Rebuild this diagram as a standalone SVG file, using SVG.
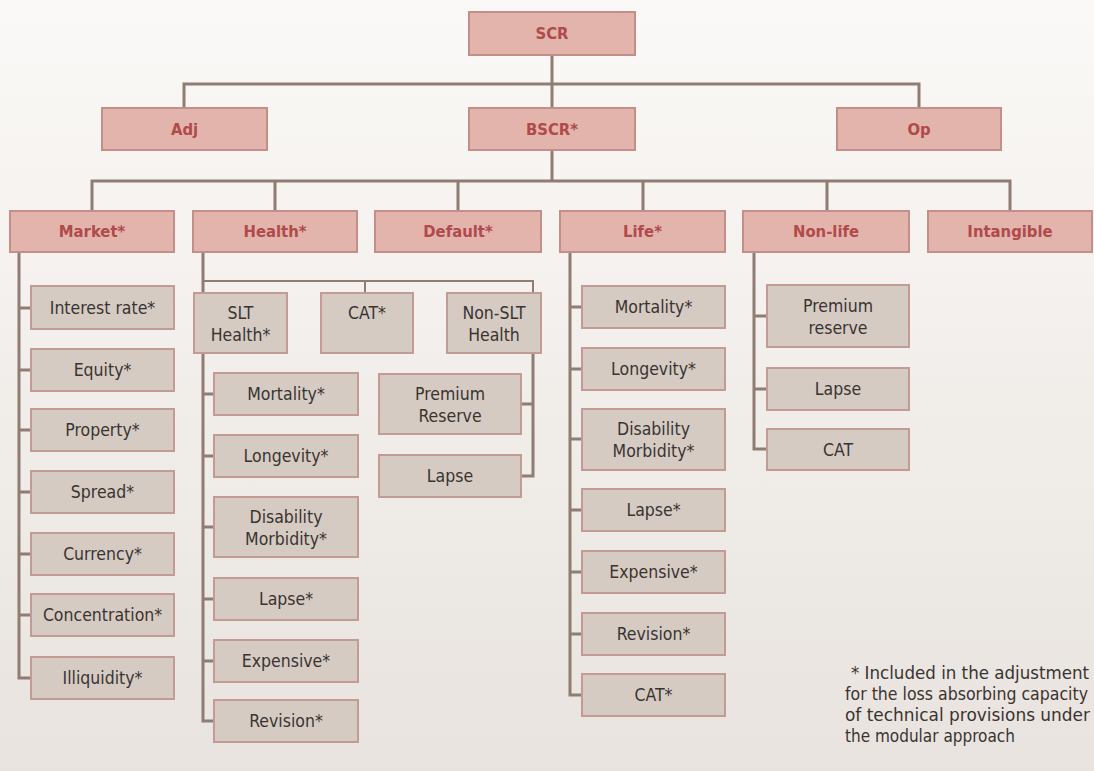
<svg xmlns="http://www.w3.org/2000/svg" width="1094" height="771" viewBox="0 0 1094 771">
<defs>
<linearGradient id="bg" x1="0" y1="0" x2="0" y2="1">
<stop offset="0" stop-color="#fbf9f7"/>
<stop offset="1" stop-color="#e8e3de"/>
</linearGradient>
</defs>
<style>
.top rect{fill:#e2b4ac;stroke:#c48f88;stroke-width:2}
.top text{fill:#b04a4b;font-family:"DejaVu Sans Condensed","Liberation Sans Narrow","Liberation Sans",sans-serif;font-weight:bold;font-size:16.5px;text-anchor:middle;dominant-baseline:central}
.leaf rect{fill:#d5cbc3;stroke:#c49a94;stroke-width:2}
.leaf text{fill:#3a3431;font-family:"DejaVu Sans Condensed","Liberation Sans Narrow","Liberation Sans",sans-serif;font-size:17.5px;text-anchor:middle;dominant-baseline:central}
.c{fill:none;stroke:#8f7d73;stroke-width:3}
.c2{fill:none;stroke:#8f7d73;stroke-width:2}
.note{fill:#3a3431;font-family:"DejaVu Sans Condensed","Liberation Sans Narrow","Liberation Sans",sans-serif;font-size:17px}
</style>
<rect width="1094" height="771" fill="url(#bg)"/>
<g id="connectors">
<path class="c" d="M552 55V108M184 108V84H919V108"/>
<path class="c" d="M552 150V181M92 211V181H1010V211M275 181V211M458 181V211M643 181V211M827 181V211"/>
<path class="c" d="M19 252V678H31M19 308H31M19 370H31M19 430H31M19 492H31M19 554H31M19 615H31"/>
<path class="c" d="M203 252V721H214M203 394H214M203 456H214M203 527H214M203 599H214M203 661H214"/>
<path class="c2" d="M203 281H533V293M365 281V293"/>
<path class="c" d="M533 353V476H521M533 404H521"/>
<path class="c" d="M570 252V695H582M570 307H582M570 369H582M570 439H582M570 510H582M570 572H582M570 634H582"/>
<path class="c" d="M754 252V449H767M754 316H767M754 389H767"/>
</g>
<g id="scr" class="top"><rect x="469" y="12" width="166" height="43"/><text x="552" y="33.5">SCR</text></g>
<g id="adj" class="top"><rect x="102" y="108" width="165" height="42"/><text x="184.5" y="129">Adj</text></g>
<g id="bscr" class="top"><rect x="469" y="108" width="166" height="42"/><text x="552" y="129">BSCR*</text></g>
<g id="op" class="top"><rect x="837" y="108" width="164" height="42"/><text x="919" y="129">Op</text></g>
<g id="market" class="top"><rect x="10" y="211" width="164" height="41"/><text x="92" y="231.5">Market*</text></g>
<g id="health" class="top"><rect x="193" y="211" width="164" height="41"/><text x="275" y="231.5">Health*</text></g>
<g id="default" class="top"><rect x="375" y="211" width="166" height="41"/><text x="458" y="231.5">Default*</text></g>
<g id="life" class="top"><rect x="560" y="211" width="165" height="41"/><text x="642.5" y="231.5">Life*</text></g>
<g id="nonlife" class="top"><rect x="743" y="211" width="166" height="41"/><text x="826" y="231.5">Non-life</text></g>
<g id="intangible" class="top"><rect x="928" y="211" width="164" height="41"/><text x="1010" y="231.5">Intangible</text></g>

<g id="m-interest" class="leaf"><rect x="31" y="286" width="143" height="43"/><text x="102.5" y="307.5">Interest rate*</text></g>
<g id="m-equity" class="leaf"><rect x="31" y="349" width="143" height="42"/><text x="102.5" y="370">Equity*</text></g>
<g id="m-property" class="leaf"><rect x="31" y="409" width="143" height="42"/><text x="102.5" y="430">Property*</text></g>
<g id="m-spread" class="leaf"><rect x="31" y="471" width="143" height="42"/><text x="102.5" y="492">Spread*</text></g>
<g id="m-currency" class="leaf"><rect x="31" y="533" width="143" height="42"/><text x="102.5" y="554">Currency*</text></g>
<g id="m-concentration" class="leaf"><rect x="31" y="594" width="143" height="42"/><text x="102.5" y="615">Concentration*</text></g>
<g id="m-illiquidity" class="leaf"><rect x="31" y="657" width="143" height="42"/><text x="102.5" y="678">Illiquidity*</text></g>

<g id="h-slt" class="leaf"><rect x="194" y="293" width="93" height="60"/><text x="240.5" y="313">SLT</text><text x="240.5" y="335">Health*</text></g>
<g id="h-cat" class="leaf"><rect x="321" y="293" width="92" height="60"/><text x="367" y="313">CAT*</text></g>
<g id="h-nonslt" class="leaf"><rect x="447" y="293" width="94" height="60"/><text x="494" y="313">Non-SLT</text><text x="494" y="335">Health</text></g>
<g id="h-mortality" class="leaf"><rect x="214" y="373" width="144" height="42"/><text x="286" y="394">Mortality*</text></g>
<g id="h-longevity" class="leaf"><rect x="214" y="435" width="144" height="42"/><text x="286" y="456">Longevity*</text></g>
<g id="h-disability" class="leaf"><rect x="214" y="497" width="144" height="60"/><text x="286" y="517">Disability</text><text x="286" y="539">Morbidity*</text></g>
<g id="h-lapse" class="leaf"><rect x="214" y="578" width="144" height="42"/><text x="286" y="599">Lapse*</text></g>
<g id="h-expensive" class="leaf"><rect x="214" y="640" width="144" height="42"/><text x="286" y="661">Expensive*</text></g>
<g id="h-revision" class="leaf"><rect x="214" y="700" width="144" height="42"/><text x="286" y="721">Revision*</text></g>
<g id="n-premium" class="leaf"><rect x="379" y="374" width="142" height="60"/><text x="450" y="394">Premium</text><text x="450" y="416">Reserve</text></g>
<g id="n-lapse" class="leaf"><rect x="379" y="455" width="142" height="42"/><text x="450" y="476">Lapse</text></g>

<g id="l-mortality" class="leaf"><rect x="582" y="286" width="143" height="42"/><text x="653.5" y="307">Mortality*</text></g>
<g id="l-longevity" class="leaf"><rect x="582" y="348" width="143" height="42"/><text x="653.5" y="369">Longevity*</text></g>
<g id="l-disability" class="leaf"><rect x="582" y="409" width="143" height="61"/><text x="653.5" y="429">Disability</text><text x="653.5" y="451">Morbidity*</text></g>
<g id="l-lapse" class="leaf"><rect x="582" y="489" width="143" height="42"/><text x="653.5" y="510">Lapse*</text></g>
<g id="l-expensive" class="leaf"><rect x="582" y="551" width="143" height="42"/><text x="653.5" y="572">Expensive*</text></g>
<g id="l-revision" class="leaf"><rect x="582" y="613" width="143" height="42"/><text x="653.5" y="634">Revision*</text></g>
<g id="l-cat" class="leaf"><rect x="582" y="674" width="143" height="42"/><text x="653.5" y="695">CAT*</text></g>

<g id="nl-premium" class="leaf"><rect x="767" y="285" width="142" height="62"/><text x="838" y="306">Premium</text><text x="838" y="328">reserve</text></g>
<g id="nl-lapse" class="leaf"><rect x="767" y="368" width="142" height="42"/><text x="838" y="389">Lapse</text></g>
<g id="nl-cat" class="leaf"><rect x="767" y="429" width="142" height="41"/><text x="838" y="449.5">CAT</text></g>

<g id="footnote">
<text class="note" x="851" y="679" textLength="238" lengthAdjust="spacingAndGlyphs">* Included in the adjustment</text>
<text class="note" x="845" y="700" textLength="243" lengthAdjust="spacingAndGlyphs">for the loss absorbing capacity</text>
<text class="note" x="845" y="721" textLength="245" lengthAdjust="spacingAndGlyphs">of technical provisions under</text>
<text class="note" x="845" y="742">the modular approach</text>
</g>
</svg>
